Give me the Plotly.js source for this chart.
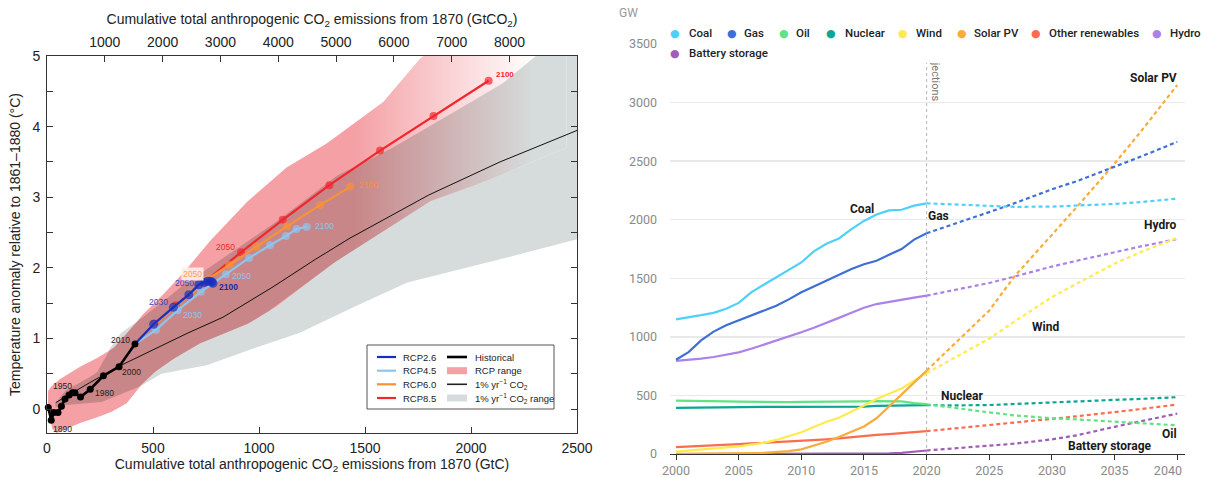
<!DOCTYPE html>
<html><head><meta charset="utf-8">
<script src="https://cdn.plot.ly/plotly-3.0.1.min.js"></script>
<style>
body{margin:0;background:#fff;}
#left{position:absolute;left:0;top:0;width:600px;height:477px;}
#right{position:absolute;left:600px;top:0;width:607px;height:477px;}
</style></head><body>
<div id="left"></div><div id="right"></div>
<script>
// ================= LEFT PANEL DATA (GtC, °C) =================
const histX = [6, 20, 32, 52, 68, 85, 104, 120, 132, 158, 204, 266, 340, 415];
const histY = [0.02, -0.16, -0.05, -0.05, 0.04, 0.14, 0.20, 0.23, 0.23, 0.17, 0.28, 0.47, 0.60, 0.92];
const histLabelIdx = [1, 5, 10, 12, 13];
const histLabelText = ['1890', '1950', '1980', '2000', '2010'];

const rcpYears = [2020, 2030, 2040, 2050, 2060, 2070, 2080, 2090, 2100];
const rcp26X = [503, 596, 669, 716, 742, 758, 770, 778, 783];
const rcp26Y = [1.20, 1.44, 1.62, 1.76, 1.79, 1.81, 1.81, 1.80, 1.78];
const rcp45X = [514, 617, 726, 844, 954, 1052, 1127, 1177, 1225];
const rcp45Y = [1.12, 1.40, 1.66, 1.91, 2.14, 2.32, 2.45, 2.55, 2.58];
const rcp60X = [505, 598, 680, 764, 860, 988, 1133, 1289, 1431];
const rcp60Y = [1.19, 1.43, 1.64, 1.85, 2.04, 2.30, 2.59, 2.89, 3.15];
const rcp85X = [507, 608, 745, 915, 1112, 1332, 1571, 1823, 2083];
const rcp85Y = [1.21, 1.47, 1.80, 2.22, 2.68, 3.17, 3.66, 4.15, 4.65];

const co2LineX = [41, 200, 350, 504, 660, 830, 1066, 1266, 1429, 1800, 2137, 2520];
const co2LineY = [0.09, 0.37, 0.62, 0.84, 1.07, 1.30, 1.73, 2.12, 2.42, 3.03, 3.50, 3.97];

const rcpRangeUpperX = [5, 20, 60, 156, 234, 313, 380, 450, 550, 650, 769, 942, 1130, 1319, 1586, 1759, 1950, 2150, 2450];
const rcpRangeUpperY = [0.25, 0.32, 0.42, 0.60, 0.72, 0.86, 1.08, 1.33, 1.63, 1.95, 2.38, 2.93, 3.42, 3.76, 4.35, 4.96, 5.40, 5.70, 6.00];
const rcpRangeLowerX = [5, 25, 46, 156, 234, 305, 376, 439, 517, 627, 722, 957, 1085, 1375, 1586, 1823, 2058, 2450];
const rcpRangeLowerY = [0.00, -0.28, -0.34, -0.20, -0.12, -0.04, 0.08, 0.32, 0.55, 0.77, 0.93, 1.22, 1.46, 2.12, 2.52, 2.97, 3.21, 3.70];

const co2RangeUpperX = [40, 80, 150, 234, 297, 350, 430, 520, 600, 736, 910, 1113, 1366, 1585, 1811, 2137, 2300, 2520];
const co2RangeUpperY = [0.08, 0.25, 0.36, 0.51, 0.86, 1.08, 1.25, 1.45, 1.66, 1.95, 2.30, 2.72, 3.30, 3.62, 4.02, 4.58, 5.00, 5.40];
const co2RangeLowerX = [40, 77, 266, 439, 540, 627, 753, 957, 1193, 1450, 1700, 2137, 2520];
const co2RangeLowerY = [0.02, 0.06, 0.10, 0.32, 0.50, 0.55, 0.62, 0.84, 1.08, 1.45, 1.79, 2.12, 2.42];

const leftXTicks = [0, 500, 1000, 1500, 2000, 2500];
const topXTicks = [1000, 2000, 3000, 4000, 5000, 6000, 7000, 8000];
const leftYTicks = [0, 0.5, 1, 1.5, 2, 2.5, 3, 3.5, 4, 4.5, 5];
const CO2_PER_C = 44 / 12;

// ================= RIGHT PANEL DATA (GW) =================
const histYears = [2000,2001,2002,2003,2004,2005,2006,2007,2008,2009,2010,2011,2012,2013,2014,2015,2016,2017,2018,2019,2020];
const projYears = [2020, 2022, 2025, 2027, 2030, 2032, 2035, 2037, 2040];
const seriesNames = ['Coal','Gas','Oil','Nuclear','Wind','Solar PV','Other renewables','Hydro','Battery storage'];
const coalHist = [1150,1165,1185,1205,1240,1290,1380,1445,1510,1570,1635,1730,1795,1840,1920,1990,2045,2080,2085,2120,2140];
const coalProj = [2140,2133,2118,2110,2112,2120,2135,2150,2180];
const gasHist = [805,870,970,1045,1100,1140,1180,1225,1265,1320,1380,1430,1480,1525,1580,1620,1650,1700,1750,1830,1885];
const gasProj = [1885,1955,2065,2140,2260,2330,2450,2535,2665];
const oilHist = [455,455,455,452,450,447,445,443,442,443,445,445,447,447,448,450,452,452,450,435,425];
const oilProj = [425,395,355,330,305,295,275,262,245];
const nuclearHist = [393,395,397,398,400,401,402,402,403,403,403,402,400,400,402,405,410,413,415,417,418];
const nuclearProj = [418,415,418,428,440,450,462,470,485];
const windHist = [20,28,35,45,55,65,80,95,120,150,185,230,275,310,360,415,470,515,560,625,690];
const windProj = [690,810,985,1130,1340,1455,1625,1720,1845];
const solarHist = [1,1,2,3,4,5,7,10,15,25,40,70,105,145,190,235,305,405,510,610,712];
const solarProj = [712,920,1225,1515,1870,2110,2480,2740,3150];
const otherHist = [58,62,67,72,78,84,90,95,100,105,110,118,125,133,145,155,163,170,178,186,195];
const otherProj = [195,215,245,268,300,322,355,382,423];
const hydroHist = [795,803,815,828,848,868,898,932,970,1005,1040,1078,1118,1162,1205,1248,1280,1300,1318,1335,1352];
const hydroProj = [1352,1395,1460,1515,1600,1650,1725,1770,1835];
const batteryHist = [0,0,0,0,0,0,0,0,0,0,0,0,0,0,0,0,2,5,10,18,30];
const batteryProj = [30,45,67,88,125,160,232,278,345];
const rightXTicks = [2000,2005,2010,2015,2020,2025,2030,2035,2040];
const rightYTicks = [0,500,1000,1500,2000,2500,3000,3500];
const projectionStart = 2020;

// ================= LEFT PANEL =================
const F1 = 'Liberation Sans, Arial, sans-serif';
const C26 = '#1430c4', C45 = '#8ec5ee', C60 = '#f7913a', C85 = '#f2262d';
const PINK = 'rgb(244,160,165)', GREY = 'rgb(214,220,220)', DARK = 'rgb(200,134,136)';
const FADE_START = 1450, FADE_STOP = 2300;
const M1 = {l:47, r:23, t:56, b:44};
const W1 = 600 - M1.l - M1.r, H1 = 477 - M1.t - M1.b;
const px1 = p => (p - M1.l) / W1;
const py1 = p => (477 - M1.b - p) / H1;

function poly(ux, uy, lx, ly) {
  return {x: ux.concat(lx.slice().reverse()), y: uy.concat(ly.slice().reverse())};
}
function interp(xs, ys, x) {
  if (x <= xs[0]) return ys[0];
  for (let i = 1; i < xs.length; i++) {
    if (x <= xs[i]) { const t = (x - xs[i-1]) / (xs[i] - xs[i-1]); return ys[i-1] + t * (ys[i] - ys[i-1]); }
  }
  return ys[ys.length-1];
}
const co2Poly = poly(co2RangeUpperX, co2RangeUpperY, co2RangeLowerX, co2RangeLowerY);
const rcpPoly = poly(rcpRangeUpperX, rcpRangeUpperY, rcpRangeLowerX, rcpRangeLowerY);
// overlap of the two ranges (computed from the boundaries)
const ovStart = Math.max(rcpRangeUpperX[0], rcpRangeLowerX[0], co2RangeUpperX[0], co2RangeLowerX[0]);
const ovEnd = Math.min(rcpRangeUpperX[rcpRangeUpperX.length-1], rcpRangeLowerX[rcpRangeLowerX.length-1],
                       co2RangeUpperX[co2RangeUpperX.length-1], co2RangeLowerX[co2RangeLowerX.length-1]);
const ovX = [], ovLo = [], ovHi = [];
for (let x = ovStart; ; x = Math.min(x + 2, ovEnd)) {
  const lo = Math.max(interp(rcpRangeLowerX, rcpRangeLowerY, x), interp(co2RangeLowerX, co2RangeLowerY, x));
  const hi = Math.min(interp(rcpRangeUpperX, rcpRangeUpperY, x), interp(co2RangeUpperX, co2RangeUpperY, x));
  ovX.push(x); ovLo.push(lo); ovHi.push(Math.max(hi, lo));
  if (x >= ovEnd) break;
}
const ovPoly = poly(ovX, ovHi, ovX, ovLo);
const lastHX = histX[histX.length-1], lastHY = histY[histY.length-1];

function rcpTrace(xs, ys, color, msize) {
  return {x:[lastHX].concat(xs), y:[lastHY].concat(ys), mode:'lines+markers', type:'scatter',
    line:{color:color, width:2.2}, marker:{color:color, size:[0].concat(xs.map(()=>msize)), line:{width:0}},
    hoverinfo:'skip', cliponaxis:false};
}

const leftTraces = [
  {x:co2Poly.x, y:co2Poly.y, type:'scatter', mode:'lines', fill:'toself', fillcolor:GREY, line:{width:0}, hoverinfo:'skip'},
  {x:rcpPoly.x, y:rcpPoly.y, type:'scatter', mode:'lines', fill:'toself', fillcolor:PINK, line:{width:0}, hoverinfo:'skip',
   fillgradient:{type:'horizontal', start:FADE_START, stop:FADE_STOP, colorscale:[[0,PINK],[1,'rgb(255,255,255)']]}},
  {x:ovPoly.x, y:ovPoly.y, type:'scatter', mode:'lines', fill:'toself', fillcolor:DARK, line:{width:0}, hoverinfo:'skip',
   fillgradient:{type:'horizontal', start:FADE_START, stop:FADE_STOP, colorscale:[[0,DARK],[1,GREY]]}},
  {x:co2LineX, y:co2LineY, type:'scatter', mode:'lines', line:{color:'#111', width:1}, hoverinfo:'skip'},
  rcpTrace(rcp85X, rcp85Y, C85, 8),
  rcpTrace(rcp60X, rcp60Y, C60, 8),
  rcpTrace(rcp45X, rcp45Y, C45, 8),
  rcpTrace(rcp26X, rcp26Y, C26, 9),
  {x:histX, y:histY, type:'scatter', mode:'lines+markers', line:{color:'#000', width:2.6},
   marker:{color:'#000', size:7}, hoverinfo:'skip', cliponaxis:false},
  {x:[null], y:[null], xaxis:'x2', yaxis:'y', type:'scatter', mode:'lines', hoverinfo:'skip'}
];

const leftAnn = [];
function yr(x, y, text, color, xa, ya, xs, ys, size, bold, bg) {
  leftAnn.push({x:x, y:y, xref:'x', yref:'y', text: bold ? '<b>'+text+'</b>' : text, showarrow:false,
    xanchor:xa, yanchor:ya, xshift:xs, yshift:ys, font:{family:F1, size:size||8.5, color:color},
    bgcolor: bg || 'rgba(0,0,0,0)', borderpad: bg ? 1 : 0});
}
const histLabelPos = [['left','top',1,-3],['center','bottom',-3,7],['left','middle',4,-4],['left','middle',2,-5],['right','middle',-4,4]];
histLabelIdx.forEach((i,k) => {
  const p = histLabelPos[k];
  yr(histX[i], histY[i], histLabelText[k], '#222', p[0], p[1], p[2], p[3], 8.5);
});
const iy = y => rcpYears.indexOf(y);
yr(rcp26X[iy(2030)], rcp26Y[iy(2030)], '2030', '#3a3fc4', 'right','middle', -4, 5);
yr(rcp26X[iy(2050)], rcp26Y[iy(2050)], '2050', '#3a3fc4', 'right','middle', -4, 2);
yr(rcp26X[iy(2100)], rcp26Y[iy(2100)], '2100', '#1a2aa8', 'left','middle', 5, -4, 8.5, true);
yr(rcp45X[iy(2030)], rcp45Y[iy(2030)], '2030', '#8ec5ee', 'left','middle', 4, -5);
yr(rcp45X[iy(2050)], rcp45Y[iy(2050)], '2050', '#8ec5ee', 'left','middle', 5, -2);
yr(rcp45X[iy(2100)], rcp45Y[iy(2100)], '2100', '#8ec5ee', 'left','middle', 7, 1);
yr(rcp60X[iy(2050)], rcp60Y[iy(2050)], '2050', '#f7a060', 'right','middle', -5, 4, 8.5, false, 'rgba(255,240,232,0.9)');
yr(rcp60X[iy(2100)], rcp60Y[iy(2100)], '2100', '#f7913a', 'left','middle', 8, 2);
yr(rcp85X[iy(2050)], rcp85Y[iy(2050)], '2050', '#f2262d', 'right','middle', -5, 5);
yr(rcp85X[iy(2100)], rcp85Y[iy(2100)], '2100', '#f2262d', 'left','middle', 6, 6, 8, true);

// legend (box + symbols + text)
const leftShapes = [];
leftShapes.push({type:'rect', xref:'paper', yref:'paper', x0:px1(367), x1:px1(554), y0:py1(409), y1:py1(345),
  line:{color:'#555', width:1}, fillcolor:'#fff', layer:'above'});
const legRows = [357, 370.7, 384.3, 398];
const col1 = [['RCP2.6', C26], ['RCP4.5', C45], ['RCP6.0', C60], ['RCP8.5', C85]];
const col2 = [['Historical','line','#000',2.6], ['RCP range','rect',PINK], ['1% yr<sup>−1</sup> CO<sub>2</sub>','line','#222',1.6], ['1% yr<sup>−1</sup> CO<sub>2</sub> range','rect',GREY]];
function legText(px, py, t) {
  leftAnn.push({x:px1(px), y:py1(py), xref:'paper', yref:'paper', text:t, showarrow:false, xanchor:'left', yanchor:'middle',
    font:{family:F1, size:9.5, color:'#222'}});
}
col1.forEach((e,k) => {
  leftShapes.push({type:'line', xref:'paper', yref:'paper', x0:px1(377), x1:px1(396), y0:py1(legRows[k]), y1:py1(legRows[k]),
    line:{color:e[1], width:2.2}, layer:'above'});
  legText(401, legRows[k], e[0]);
});
col2.forEach((e,k) => {
  if (e[1] === 'line') {
    leftShapes.push({type:'line', xref:'paper', yref:'paper', x0:px1(447), x1:px1(467), y0:py1(legRows[k]), y1:py1(legRows[k]),
      line:{color:e[2], width:e[3]}, layer:'above'});
  } else {
    leftShapes.push({type:'rect', xref:'paper', yref:'paper', x0:px1(447), x1:px1(467), y0:py1(legRows[k]+3.5), y1:py1(legRows[k]-3.5),
      line:{width:0}, fillcolor:e[2], layer:'above'});
  }
  legText(473, legRows[k], e[0]);
});

const axFont = {family:F1, size:14, color:'#222'};
const leftLayout = {
  width:600, height:477, margin:M1, paper_bgcolor:'#fff', plot_bgcolor:'#fff', showlegend:false,
  font:axFont,
  xaxis:{range:[0,2500], tickvals:leftXTicks, ticks:'inside', ticklen:6, tickcolor:'#333', showline:true, linecolor:'#333',
    linewidth:1, showgrid:false, zeroline:false, tickfont:axFont, ticklabelstandoff:2,
    title:{text:'Cumulative total anthropogenic CO<sub>2</sub> emissions from 1870 (GtC)', font:axFont, standoff:4}},
  xaxis2:{overlaying:'x', side:'top', anchor:'y', range:[0, 2500*CO2_PER_C], tickvals:topXTicks, ticks:'inside', ticklen:6,
    tickcolor:'#333', showline:true, linecolor:'#333', linewidth:1, showgrid:false, zeroline:false, tickfont:axFont, ticklabelstandoff:2,
    title:{text:'Cumulative total anthropogenic CO<sub>2</sub> emissions from 1870 (GtCO<sub>2</sub>)', font:axFont, standoff:6}},
  yaxis:{range:[-0.34,5], tickvals:leftYTicks, ticktext:leftYTicks.map(v => Number.isInteger(v) ? String(v) : ''),
    ticks:'inside', ticklen:6, tickcolor:'#333', showline:true, linecolor:'#333', linewidth:1, mirror:'ticks',
    showgrid:false, zeroline:false, tickfont:axFont, ticklabelstandoff:3,
    title:{text:'Temperature anomaly relative to 1861–1880 (°C)', font:axFont, standoff:8}},
  shapes:leftShapes, annotations:leftAnn
};
Plotly.newPlot('left', leftTraces, leftLayout, {staticPlot:true, displayModeBar:false});

// ================= RIGHT PANEL =================
const F2 = 'Roboto, Inter, sans-serif';
const colors = ['#4fd0fb','#3d6fd6','#62e283','#0ea594','#ffeb4d','#fbab3c','#fc6d4d','#ab82ea','#a05cb6'];
const hists = [coalHist, gasHist, oilHist, nuclearHist, windHist, solarHist, otherHist, hydroHist, batteryHist];
const projs = [coalProj, gasProj, oilProj, nuclearProj, windProj, solarProj, otherProj, hydroProj, batteryProj];
const M2 = {l:70, r:22, t:37, b:23};
const W2 = 607 - M2.l - M2.r, H2 = 477 - M2.t - M2.b;
const px2 = p => (p - 600 - M2.l) / W2;
const py2 = p => (477 - M2.b - p) / H2;

const rightTraces = [];
const drawOrder = [8, 6, 3, 2, 7, 4, 5, 1, 0];
drawOrder.forEach(i => {
  rightTraces.push({x:histYears, y:hists[i], type:'scatter', mode:'lines', name:seriesNames[i],
    line:{color:colors[i], width:2.2}, hoverinfo:'skip'});
  rightTraces.push({x:projYears, y:projs[i], type:'scatter', mode:'lines', name:seriesNames[i],
    line:{color:colors[i], width:2.2, dash:'4px,3px'}, hoverinfo:'skip'});
});

const rightAnn = [];
rightAnn.push({x:projectionStart, xref:'x', y:py2(44), yref:'paper', text:'Projections', textangle:90, showarrow:false,
  xanchor:'left', yanchor:'top', xshift:1, font:{family:F2, size:11, color:'#777'}});
rightAnn.push({x:0, xref:'paper', y:py2(18), yref:'paper', text:' ', showarrow:false, xanchor:'left', yanchor:'top',
  width:W2 + M2.r, height:45, bgcolor:'#fff', borderpad:0, borderwidth:0});
const legDotX = [675.4, 731.5, 783.7, 830.9, 902.8, 961.6, 1035.8, 1156.8, 675.4];
const legTextX = [687, 742.3, 794, 842.5, 914, 972.4, 1047.4, 1168.4, 687];
const legRowY = [33.3, 33.3, 33.3, 33.3, 33.3, 33.3, 33.3, 33.3, 53.3];
seriesNames.forEach((n,i) => {
  rightAnn.push({x:px2(legDotX[i]), y:py2(legRowY[i]), xref:'paper', yref:'paper', text:'●', showarrow:false,
    xanchor:'center', yanchor:'middle', font:{family:'DejaVu Sans', size:11, color:colors[i]}});
  rightAnn.push({x:px2(legTextX[i]), y:py2(legRowY[i]), xref:'paper', yref:'paper', text:n, showarrow:false,
    xanchor:'left', yanchor:'middle', font:{family:F2, size:11.5, color:'#222', weight:500}});
});
rightAnn.push({x:px2(628), y:py2(13), xref:'paper', yref:'paper', text:'GW', showarrow:false, xanchor:'center', yanchor:'middle',
  font:{family:F2, size:12, color:'#999'}});
const labelText = ['Coal','Gas','Solar PV','Hydro','Wind','Nuclear','Oil','Battery storage'];
const labelX = [2014.84, 2020.95, 2038.07, 2038.63, 2029.45, 2022.9, 2039.35, 2034.64];
const labelY = [2093, 2030, 3211, 1954, 1085, 491, 167, 66];
labelText.forEach((t,i) => {
  rightAnn.push({x:labelX[i], y:labelY[i], xref:'x', yref:'y', text:'<b>'+t+'</b>', showarrow:false,
    xanchor:'center', yanchor:'middle', font:{family:F2, size:12, color:'#1a1a1a'}});
});

const tickF2 = {family:F2, size:12.5, color:'#8a8a8a'};
const NB = '\u00a0';
const rightLayout = {
  width:607, height:477, margin:M2, paper_bgcolor:'#fff', plot_bgcolor:'#fff', showlegend:false,
  xaxis:{range:[1999.52, 2040.62], tickvals:rightXTicks,
    ticktext:rightXTicks.map((v,i) => i === rightXTicks.length-1 ? String(v) + NB.repeat(6) : String(v)),
    ticks:'outside', ticklen:5, tickcolor:'#333', tickwidth:1,
    showline:true, linecolor:'#333', linewidth:1, showgrid:false, zeroline:false, tickfont:tickF2, ticklabelstandoff:0},
  yaxis:{range:[0,3560], tickvals:rightYTicks, showgrid:true, gridcolor:'#e9e9e9', gridwidth:1.5, zeroline:false,
    showline:false, ticks:'', tickfont:tickF2, ticklabelstandoff:12},
  shapes:[{type:'line', xref:'x', yref:'paper', x0:projectionStart, x1:projectionStart, y0:0, y1:1,
    line:{color:'#b5b5b5', width:1, dash:'dot'}, layer:'below'}],
  annotations:rightAnn
};
Plotly.newPlot('right', rightTraces, rightLayout, {staticPlot:true, displayModeBar:false});
</script>
</body></html>
